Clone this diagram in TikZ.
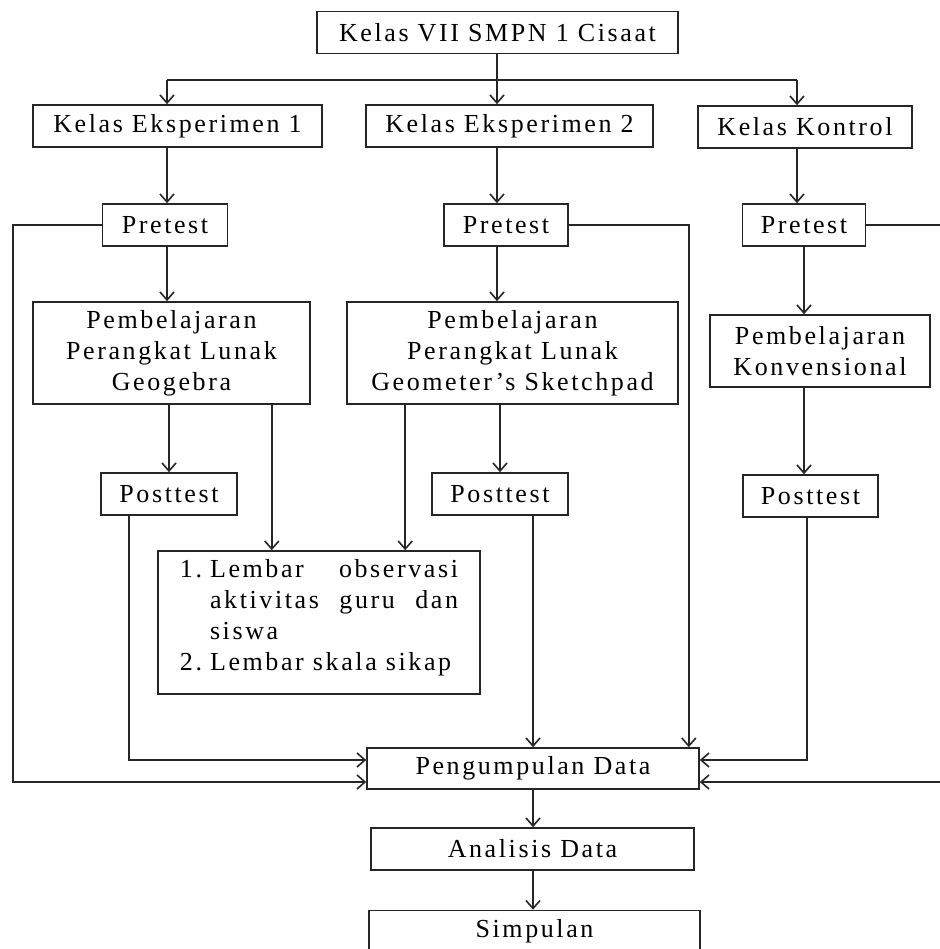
\documentclass[tikz,border=0pt]{standalone}
\usepackage{fontspec}
\setmainfont{Liberation Serif}[LetterSpace=10]
\usetikzlibrary{arrows.meta,positioning}
\tikzset{kelas/.style={rectangle,draw=black!85,line width=0.8pt,inner sep=0pt,minimum height=21pt,font=\fontsize{13}{15.5}\selectfont}}
\tikzset{garis/.style={draw=black!85,line width=0.8pt}}
\tikzset{toArrow/.style={garis,-{Straight Barb[length=4pt,width=7pt]}}}

\begin{document}
\begin{tikzpicture}[x=0.5pt,y=-0.5pt]
\useasboundingbox (0,0) rectangle (940,949);
\begin{scope}
	\node (sekolah) [kelas, minimum width=180.5pt] at (497.5,32.5) {Kelas VII SMPN 1 Cisaat} ;
	\node (eks1) [kelas, minimum width=144.5pt] at (177.5,126) {Kelas Eksperimen 1} ;
	\node (eks2) [kelas, minimum width=143.5pt] at (509.5,126) {Kelas Eksperimen 2} ;
	\node (kontrol) [kelas, minimum width=107pt] at (805,127) {Kelas Kontrol} ;
	\node (pre1) [kelas, minimum width=62.5pt] at (165,225) {Pretest} ;
	\node (pre2) [kelas, minimum width=62pt] at (506,225) {Pretest} ;
	\node (pre3) [kelas, minimum width=61.5pt] at (804,225) {Pretest} ;
	\node (ajar1) [kelas, minimum width=138.5pt, minimum height=51pt, align=center] at (171.5,353) {Pembelajaran\\Perangkat Lunak\\Geogebra} ;
	\node (ajar2) [kelas, minimum width=165.5pt, minimum height=51pt, align=center] at (512.5,353) {Pembelajaran\\Perangkat Lunak\\Geometer’s Sketchpad} ;
	\node (ajar3) [kelas, minimum width=110pt, minimum height=36pt, align=center] at (820,351) {Pembelajaran\\Konvensional} ;
	\node (post1) [kelas, minimum width=68pt] at (169,494) {Posttest} ;
	\node (post2) [kelas, minimum width=68pt] at (500,494) {Posttest} ;
	\node (post3) [kelas, minimum width=67.5pt] at (810.5,496) {Posttest} ;
	\node (lembar) [kelas, minimum width=161pt, minimum height=71.5pt] at (319,622.5) {\hyphenpenalty=10000\begin{tabular}{@{}l@{\hspace{4pt}}p{124pt}@{}}1. & Lembar observasi aktivitas guru dan siswa\\ 2. & Lembar skala sikap\\[5pt]\end{tabular}} ;
	\node (kumpul) [kelas, minimum width=166pt, minimum height=20.5pt] at (533,768.5) {Pengumpulan Data} ;
	\node (analisis) [kelas, minimum width=161.5pt] at (532.5,849) {Analisis Data} ;
	\node (simpulan) [kelas, minimum width=165.5pt] at (534.5,931.5) {Simpulan} ;

	\coordinate (kiri) at (167,80) ;
	\coordinate (cabang) at (497,80) ;
	\coordinate (kanan) at (797,80) ;
	\coordinate (sisikiri) at (13,0) ;
	\coordinate (sisikanan) at (945,0) ;
	\coordinate (masukA) at ([yshift=4.25pt]kumpul.west) ;
	\coordinate (masukB) at ([yshift=-6.75pt]kumpul.west) ;
	\coordinate (masukC) at ([yshift=4.25pt]kumpul.east) ;
	\coordinate (masukD) at ([yshift=-6.75pt]kumpul.east) ;

	\draw [garis] (sekolah.south -| cabang) -- (cabang) ;
	\draw [garis] (kiri) -- (kanan) ;
	\draw [toArrow] (kiri) -- (kiri |- eks1.north) ;
	\draw [toArrow] (cabang) -- (cabang |- eks2.north) ;
	\draw [toArrow] (kanan) -- (kanan |- kontrol.north) ;

	\draw [toArrow] (eks1.south -| kiri) -- (pre1.north -| kiri) ;
	\draw [toArrow] (pre1.south -| kiri) -- (ajar1.north -| kiri) ;
	\draw [toArrow] (ajar1.south -| post1) -- (post1.north) ;
	\draw [toArrow] (eks2.south -| cabang) -- (pre2.north -| cabang) ;
	\draw [toArrow] (pre2.south -| cabang) -- (ajar2.north -| cabang) ;
	\draw [toArrow] (ajar2.south -| post2) -- (post2.north) ;
	\draw [toArrow] (kontrol.south -| kanan) -- (pre3.north -| kanan) ;
	\draw [toArrow] (pre3.south) -- (pre3.south |- ajar3.north) ;
	\draw [toArrow] (ajar3.south -| pre3) -- (pre3 |- post3.north) ;

	\draw [toArrow] ([xshift=-19.5pt]ajar1.south east) -- ([xshift=-19.5pt]ajar1.south east |- lembar.north) ;
	\draw [toArrow] ([xshift=29.5pt]ajar2.south west) -- ([xshift=29.5pt]ajar2.south west |- lembar.north) ;

	\draw [toArrow] (pre1.west) -| (sisikiri |- masukB) -- (masukB) ;
	\draw [toArrow] ([xshift=14.5pt]post1.south west) |- (masukA) ;
	\draw [toArrow] (post2.south -| kumpul.north) -- (kumpul.north) ;
	\draw [toArrow] (pre2.east) -| ([xshift=-5.5pt]kumpul.north east) ;
	\draw [toArrow] ([xshift=-1.75pt]post3.south) |- (masukC) ;
	\draw [toArrow] (pre3.east) -| (sisikanan |- masukD) -- (masukD) ;

	\draw [toArrow] (kumpul.south) -- (kumpul.south |- analisis.north) ;
	\draw [toArrow] (analisis.south -| kumpul.south) -- (kumpul.south |- simpulan.north) ;
\end{scope}
\end{tikzpicture}
\end{document}
